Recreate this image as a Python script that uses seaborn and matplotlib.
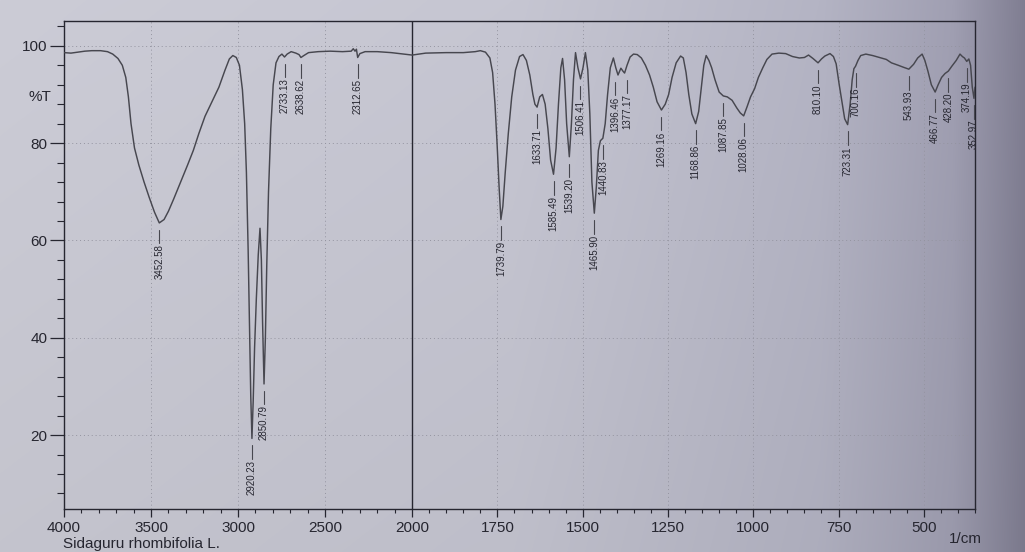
import numpy as np
import pandas as pd
import matplotlib
matplotlib.use("Agg")
import matplotlib.pyplot as plt
import matplotlib.transforms as mtransforms
import seaborn as sns

# ---------------- data ----------------
wavenumber = [
    4000, 3960, 3920, 3880, 3840, 3790, 3750, 3720, 3690, 3665, 3645, 3630, 3615, 3595,
    3570, 3540, 3510, 3480, 3452.58, 3425, 3400, 3370, 3330, 3290, 3257, 3225, 3190,
    3150, 3110, 3075, 3050, 3030, 3010, 2992, 2975, 2962, 2952, 2942, 2934, 2927,
    2920.23, 2913, 2905, 2895, 2884, 2874, 2866, 2859, 2850.79, 2843, 2835, 2825, 2812,
    2798, 2782, 2765, 2748, 2733.13, 2718, 2695, 2668, 2650, 2638.62, 2622, 2595, 2540,
    2470, 2400, 2350, 2338, 2328, 2320, 2312.65, 2300, 2270, 2200, 2120, 2050, 2000,
    1960, 1900, 1850, 1815, 1800, 1785, 1772, 1764, 1757, 1751, 1745, 1739.79, 1734,
    1727, 1718, 1708, 1697, 1685, 1675, 1665, 1655, 1646, 1640, 1633.71, 1626, 1618,
    1610, 1602, 1594, 1585.49, 1578, 1571, 1564, 1559, 1553, 1547, 1539.20, 1533, 1527,
    1521, 1514, 1506.41, 1499, 1492, 1485, 1479, 1473, 1465.90, 1460, 1454, 1448,
    1440.83, 1434, 1427, 1419, 1410, 1403, 1396.46, 1388, 1382, 1377.17, 1370, 1361,
    1351, 1340, 1328, 1316, 1304, 1293, 1282, 1269.16, 1258, 1248, 1238, 1226, 1213,
    1205, 1197, 1189, 1180, 1168.86, 1160, 1152, 1145, 1138, 1130, 1122, 1112, 1100,
    1087.85, 1076, 1062, 1048, 1038, 1028.06, 1018, 1008, 996, 985, 972, 960, 945, 925,
    905, 885, 865, 850, 838, 825, 810.10, 800, 790, 775, 765, 757, 748, 740, 732,
    723.31, 716, 710, 705, 700.16, 693, 685, 670, 650, 630, 610, 595, 575, 560, 543.93,
    530, 518, 505, 497, 488, 478, 466.77, 458, 448, 438, 428.20, 418, 405, 394, 387,
    381, 374.19, 368, 363, 358, 352.97, 350,
]
transmittance = [
    98.6, 98.5, 98.7, 98.9, 99.0, 99.0, 98.8, 98.3, 97.4, 96.0, 93.5, 89.5, 84.0, 79.0,
    75.5, 72.0, 68.8, 65.8, 63.6, 64.3, 66.0, 68.5, 72.0, 75.5, 78.5, 82.0, 85.5,
    88.5, 91.5, 95.0, 97.3, 98.0, 97.6, 96.0, 91.0, 84.0, 74.0, 58.0, 42.0, 28.0,
    19.3, 27.0, 38.0, 48.0, 57.0, 62.5, 56.0, 43.0, 30.5, 40.0, 55.0, 70.0, 83.0,
    92.0, 96.5, 97.8, 98.3, 97.7, 98.3, 98.8, 98.5, 98.2, 97.6, 98.0, 98.6, 98.8,
    98.9, 98.8, 98.9, 99.4, 98.9, 99.3, 97.6, 98.4, 98.8, 98.8, 98.6, 98.3, 98.1,
    98.5, 98.6, 98.6, 98.8, 99.0, 98.7, 97.5, 94.5, 88.0, 80.0, 71.0, 64.3, 67.0,
    74.0, 82.0, 89.5, 95.0, 97.8, 98.2, 97.0, 94.0, 90.0, 88.0, 87.4, 89.5, 90.0,
    88.0, 83.0, 76.5, 73.6, 79.0, 88.0, 95.5, 97.4, 93.0, 84.0, 77.2, 84.0, 93.0,
    98.6, 95.5, 93.2, 95.5, 98.6, 95.0, 86.0, 72.0, 65.6, 71.0, 78.5, 80.5,
    81.0, 84.0, 90.0, 95.5, 97.5, 95.5, 94.0, 95.4, 94.8, 94.4, 96.0, 97.7,
    98.3, 98.2, 97.5, 96.0, 94.0, 91.5, 88.5, 86.8, 88.0, 90.0, 93.5, 96.5, 97.9,
    97.5, 94.5, 90.0, 86.0, 84.0, 86.5, 91.5, 96.0, 98.0, 97.0, 95.5, 93.0, 90.5,
    89.7, 89.5, 88.8, 87.2, 86.2, 85.6, 87.5, 89.5, 91.2, 93.5, 95.5, 97.2, 98.3, 98.5,
    98.4, 97.8, 97.5, 97.6, 98.1, 97.4, 96.5, 97.3, 97.9, 98.4, 97.8, 96.3, 92.0, 88.5, 85.0,
    83.8, 88.0, 93.0, 95.3, 95.8, 97.0, 98.0, 98.3, 98.0, 97.6, 97.2, 96.5, 96.0, 95.6, 95.2,
    96.2, 97.5, 98.3, 97.0, 94.8, 92.0, 90.5, 92.0, 93.5, 94.3, 94.8, 95.8, 97.0, 98.3, 97.8,
    97.5, 96.8, 97.3, 96.0, 91.5, 89.2, 91.5,
]
peak_wavenumbers = [
    3452.58, 2920.23, 2850.79, 2733.13, 2638.62, 2312.65, 1739.79, 1633.71, 1585.49,
    1539.20, 1506.41, 1465.90, 1440.83, 1396.46, 1377.17, 1269.16, 1168.86, 1087.85,
    1028.06, 810.10, 723.31, 700.16, 543.93, 466.77, 428.20, 374.19, 352.97,
]
peak_labels = [
    "3452.58", "2920.23", "2850.79", "2733.13", "2638.62", "2312.65", "1739.79",
    "1633.71", "1585.49", "1539.20", "1506.41", "1465.90", "1440.83", "1396.46",
    "1377.17", "1269.16", "1168.86", "1087.85", "1028.06", "810.10", "723.31",
    "700.16", "543.93", "466.77", "428.20", "374.19", "352.97",
]
major_xticks = [4000, 3500, 3000, 2500, 2000, 1750, 1500, 1250, 1000, 750, 500]
minor_xticks_high = list(range(4000, 2000, -100))
minor_xticks_low = list(range(2000, 349, -50))
major_yticks = [20, 40, 60, 80, 100]
minor_yticks = list(range(8, 105, 4))
y_axis_label = "%T"
x_axis_label = "1/cm"
sample_name = "Sidaguru rhombifolia L."

# ---------------- style ----------------
sns.set_style("ticks")
plt.rcParams["font.family"] = ["Liberation Sans", "DejaVu Sans"]

LINE = "#47474f"
INK = "#262630"
GRID = "#9494a0"
EXPAND = 1.96  # the region below 2000 1/cm is drawn expanded


def fwd(x):
    x = np.asarray(x, dtype=float)
    return np.where(x >= 2000, 2000 + (x - 2000) / EXPAND, x)


def inv(u):
    u = np.asarray(u, dtype=float)
    return np.where(u >= 2000, 2000 + (u - 2000) * EXPAND, u)


W, H = 1025, 552
fig = plt.figure(figsize=(W / 100, H / 100), dpi=100)

# photographed-paper background (horizontal shading), drawn in a backdrop axes
xs = np.linspace(0, 1, W)
stops_x = [0.0, 0.5, 0.8, 0.93, 1.0]
stops_c = np.array([[204, 204, 214], [198, 198, 210], [180, 180, 196],
                    [160, 159, 178], [128, 126, 146]], dtype=float)
row = np.stack([np.interp(xs, stops_x, stops_c[:, k]) for k in range(3)], axis=-1)
ys = np.linspace(0, 1, H)[:, None, None]
bg = (row[None, :, :] * (1.0 - 0.04 * ys)).astype(np.uint8)
bax = fig.add_axes([0, 0, 1, 1], zorder=-5)
bax.imshow(bg, aspect="auto", interpolation="bilinear")
bax.set_axis_off()

ax = fig.add_axes([64 / W, 1 - 509 / H, (975 - 64) / W, (509 - 21) / H], zorder=1)
ax.set_facecolor("none")

df = pd.DataFrame({"wavenumber": wavenumber, "T": transmittance})
sns.lineplot(data=df, x="wavenumber", y="T", ax=ax, color=LINE, lw=1.05,
             sort=False, estimator=None, zorder=3)

ax.set_xscale("function", functions=(fwd, inv))
ax.set_xlim(4000, 350)
ax.set_ylim(4.8, 105.1)
ax.set_xlabel("")
ax.set_ylabel("")

ax.set_xticks(major_xticks)
ax.set_xticklabels([str(v) for v in major_xticks])
ax.set_xticks(sorted(set(minor_xticks_high + minor_xticks_low) - set(major_xticks)), minor=True)
ax.set_yticks(major_yticks)
ax.set_yticklabels([str(v) for v in major_yticks])
ax.set_yticks([v for v in minor_yticks if v not in major_yticks], minor=True)

ax.tick_params(axis="x", which="major", direction="out", length=6, width=0.9,
               colors=INK, labelsize=11, pad=2.5)
ax.tick_params(axis="x", which="minor", direction="out", length=3, width=0.8, colors=INK)
ax.tick_params(axis="y", which="major", direction="out", length=10, width=0.9,
               colors=INK, labelsize=11, pad=2)
ax.tick_params(axis="y", which="minor", direction="out", length=5, width=0.8, colors=INK)

for s in ax.spines.values():
    s.set_color(INK)
    s.set_linewidth(1.0)

# dotted grid
for v in major_xticks:
    if v not in (4000, 2000):
        ax.axvline(v, color=GRID, lw=0.7, ls=(0, (1, 3)), zorder=1)
for v in major_yticks:
    ax.axhline(v, color=GRID, lw=0.7, ls=(0, (1, 3)), zorder=1)
ax.axvline(2000, color=INK, lw=1.0, zorder=2)

# peak labels (the two close 1396/1377 labels are spread a little sideways)
nudge_pt = {"1396.46": -2.0, "1377.17": 2.0}
wn_inc = np.array(wavenumber)[::-1]
t_inc = np.array(transmittance)[::-1]
peak_T = np.interp(peak_wavenumbers, wn_inc, t_inc)
for wn, lab, t in zip(peak_wavenumbers, peak_labels, peak_T):
    dx = nudge_pt.get(lab, 0.0)
    tr = ax.transData + mtransforms.ScaledTranslation(dx / 72, 0, fig.dpi_scale_trans)
    ax.plot([wn, wn], [t - 1.4, t - 4.2], color=LINE, lw=0.8, zorder=3,
            clip_on=False, transform=tr)
    ax.text(wn, t - 4.4, lab, rotation=90, ha="center", va="top",
            fontsize=7.0, color=INK, zorder=4, clip_on=False, transform=tr)

fig.text(40 / W, 1 - 97 / H, y_axis_label, ha="center", va="center", fontsize=11, color=INK)
fig.text(965 / W, 1 - 539 / H, x_axis_label, ha="center", va="center", fontsize=11, color=INK)
fig.text(63 / W, 1 - 544 / H, sample_name, ha="left", va="center", fontsize=11, color=INK)

fig.savefig("out.png", dpi=100)
